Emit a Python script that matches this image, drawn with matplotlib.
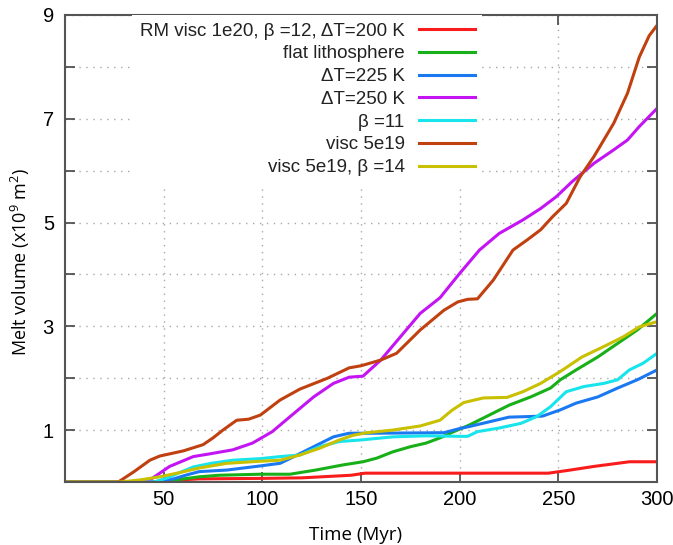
import matplotlib
matplotlib.use("Agg")
import matplotlib.pyplot as plt
from matplotlib.ticker import MultipleLocator

plt.rcParams["font.family"] = ["Liberation Sans", "DejaVu Sans"]
plt.rcParams["mathtext.fontset"] = "custom"
plt.rcParams["mathtext.rm"] = "Open Sans"
plt.rcParams["mathtext.default"] = "regular"

# melt volume curves
rm_x = [0, 52, 58, 68, 100, 120, 130, 145, 152, 245, 256, 268, 280, 286, 300]
rm_y = [0, 0, 0.04, 0.06, 0.07, 0.08, 0.1, 0.13, 0.17, 0.17, 0.23, 0.3, 0.36, 0.39, 0.39]

flat_x = [0, 50, 58, 68, 78, 99, 114, 127, 141, 151, 158, 166, 175, 183, 190, 197,
          205, 215, 225, 236, 246, 251, 259, 270, 280, 290, 300]
flat_y = [0, 0, 0.05, 0.1, 0.13, 0.15, 0.15, 0.23, 0.33, 0.39, 0.46, 0.58, 0.68, 0.75,
          0.85, 0.97, 1.1, 1.29, 1.48, 1.64, 1.81, 1.97, 2.16, 2.41, 2.67, 2.93, 3.25]

dt225_x = [0, 45, 55, 62, 68, 82, 99, 109, 116, 126, 136, 144, 157, 192, 200, 205,
           215, 225, 234, 242, 251, 259, 270, 280, 290, 300]
dt225_y = [0, 0, 0.06, 0.14, 0.2, 0.23, 0.31, 0.36, 0.49, 0.68, 0.87, 0.94, 0.94, 0.95,
           1.03, 1.07, 1.16, 1.25, 1.26, 1.27, 1.39, 1.52, 1.64, 1.81, 1.97, 2.16]

dt250_x = [0, 40, 43, 53, 65, 73, 85, 95, 105, 115, 126, 136, 144, 151, 160, 170, 180,
           190, 200, 210, 220, 232, 241, 249, 257, 268, 278, 285, 291, 300]
dt250_y = [0, 0, 0.04, 0.3, 0.49, 0.54, 0.62, 0.75, 0.97, 1.29, 1.64, 1.9, 2.02, 2.04,
           2.35, 2.8, 3.25, 3.55, 4.02, 4.47, 4.79, 5.05, 5.27, 5.5, 5.79, 6.14, 6.4,
           6.59, 6.85, 7.2]

b11_x = [0, 45, 52, 58, 65, 74, 85, 99, 109, 119, 129, 139, 150, 166, 183, 200, 204,
         209, 220, 231, 239, 246, 254, 263, 273, 280, 286, 293, 300]
b11_y = [0, 0, 0.08, 0.18, 0.29, 0.36, 0.42, 0.45, 0.49, 0.52, 0.68, 0.78, 0.81, 0.87,
         0.89, 0.88, 0.88, 0.97, 1.04, 1.13, 1.26, 1.45, 1.74, 1.84, 1.9, 1.97, 2.16,
         2.29, 2.48]

v5_x = [0, 27, 35, 43, 48, 60, 70, 75, 80, 87, 93, 99, 109, 119, 133, 144, 150, 160,
        168, 180, 192, 199, 204, 209, 217, 227, 234, 241, 247, 254, 261, 268, 278, 285,
        291, 296, 300]
v5_y = [0, 0, 0.2, 0.42, 0.5, 0.6, 0.72, 0.85, 1.0, 1.19, 1.21, 1.29, 1.58, 1.79, 2.0,
        2.2, 2.24, 2.35, 2.48, 2.93, 3.31, 3.47, 3.52, 3.53, 3.89, 4.47, 4.66, 4.86,
        5.11, 5.37, 5.88, 6.27, 6.91, 7.49, 8.19, 8.6, 8.8]

v5b14_x = [0, 28, 38, 48, 58, 68, 82, 99, 109, 119, 129, 139, 146, 153, 166, 180, 190,
           196, 202, 212, 224, 232, 241, 251, 262, 273, 283, 291, 300]
v5b14_y = [0, 0, 0.04, 0.1, 0.18, 0.27, 0.36, 0.4, 0.42, 0.52, 0.65, 0.81, 0.9, 0.95,
           1.0, 1.08, 1.19, 1.38, 1.53, 1.62, 1.63, 1.74, 1.9, 2.13, 2.41, 2.61, 2.8,
           2.99, 3.09]

series = [
    (rm_x, rm_y, "RM visc 1e20, β =12, ΔT=200 K", "#f81c1c"),
    (flat_x, flat_y, "flat lithosphere", "#18b018"),
    (dt225_x, dt225_y, "ΔT=225 K", "#1a78f0"),
    (dt250_x, dt250_y, "ΔT=250 K", "#c414f4"),
    (b11_x, b11_y, "β =11", "#18e4ec"),
    (v5_x, v5_y, "visc 5e19", "#c04010"),
    (v5b14_x, v5b14_y, "visc 5e19, β =14", "#c8c000"),
]

fig = plt.figure(figsize=(6.73, 5.45), dpi=100)
ax = fig.add_axes([0.0966, 0.1156, 0.8797, 0.8569])

for x, y, lab, col in series:
    ax.plot(x, y, color=col, lw=2.2, label=lab, solid_joinstyle="round")

ax.set_xlim(0, 300)
ax.set_ylim(0, 9)
ax.set_xticks([50, 100, 150, 200, 250, 300])
ax.set_yticks([1, 3, 5, 7, 9])
ax.yaxis.set_minor_locator(MultipleLocator(1))
ax.grid(True, which="both", color="#a8a8a8", lw=1.0, ls=(0, (1, 4)))
ax.tick_params(which="both", direction="in", top=True, right=True,
               length=7, width=1.2, color="#444444", labelsize=14.5)
ax.tick_params(axis="y", pad=8)
ax.tick_params(axis="x", pad=6)
for s in ax.spines.values():
    s.set_color("#555555")
    s.set_linewidth(1.5)

xl = ax.set_xlabel("Time (Myr)", family=["Open Sans", "DejaVu Sans"], fontsize=13.5)
xl.set_va("center")
ax.xaxis.set_label_coords(0.4916, -0.1135)
yl = ax.set_ylabel("Melt volume (x10$^{9}$ m$^{2}$)",
                   family=["Open Sans", "DejaVu Sans"], fontsize=13)
yl.set_va("center")
ax.yaxis.set_label_coords(-0.076, 0.471)

leg = ax.legend(loc="upper right", bbox_to_anchor=(0.705, 1.0), markerfirst=False,
                fontsize=13.5, handlelength=3.0, handletextpad=0.75,
                labelspacing=0.3, borderpad=0.4, borderaxespad=0,
                frameon=True, fancybox=False, framealpha=1,
                facecolor="white", edgecolor="none")
for t in leg.get_texts():
    t.set_color("#222222")

fig.savefig("out.png", dpi=100)
